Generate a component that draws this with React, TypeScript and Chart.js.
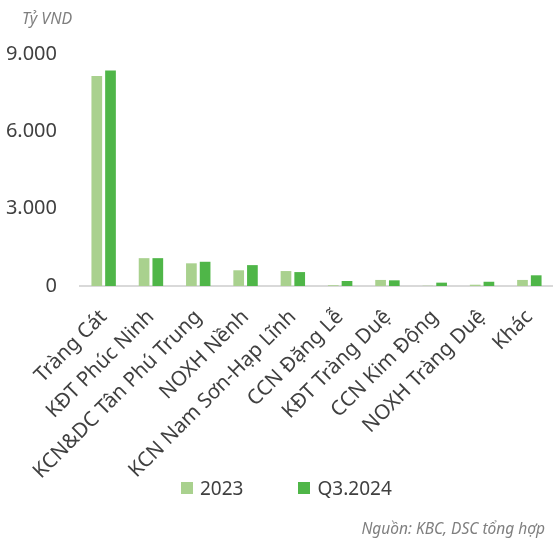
import React, { useEffect, useRef } from "react";
import { Chart, registerables } from "chart.js";

Chart.register(...registerables);

const categories = [
  "Tràng Cát",
  "KĐT Phúc Ninh",
  "KCN&DC Tân Phú Trung",
  "NOXH Nềnh",
  "KCN Nam Sơn-Hạp Lĩnh",
  "CCN Đặng Lễ",
  "KĐT Tràng Duệ",
  "CCN Kim Động",
  "NOXH Tràng Duệ",
  "Khác",
];
const values2023 = [8150, 1080, 880, 610, 580, 30, 235, 10, 50, 235];
const valuesQ3_2024 = [8360, 1080, 940, 810, 540, 195, 220, 130, 165, 415];
const yTicks = [0, 3000, 6000, 9000];
const seriesNames = ["2023", "Q3.2024"];
const seriesColors = ["#a9d18e", "#4fb648"];

const FONT = "'Noto Sans', 'Open Sans', sans-serif";

export default function App() {
  const ref = useRef<HTMLCanvasElement | null>(null);
  useEffect(() => {
    if (!ref.current) return;
    const chart = new Chart(ref.current, {
      type: "bar",
      data: {
        labels: categories,
        datasets: [
          {
            label: seriesNames[0],
            data: values2023,
            backgroundColor: seriesColors[0],
            barPercentage: 0.78,
            categoryPercentage: 0.58,
          },
          {
            label: seriesNames[1],
            data: valuesQ3_2024,
            backgroundColor: seriesColors[1],
            barPercentage: 0.78,
            categoryPercentage: 0.58,
          },
        ],
      },
      options: {
        animation: false,
        responsive: false,
        layout: { padding: { top: 54, left: 6, right: 0, bottom: 54 } },
        plugins: {
          legend: { display: false },
          tooltip: { enabled: false },
        },
        scales: {
          x: {
            grid: { display: false },
            border: { display: true, color: "#d9d9d9", width: 2 },
            afterFit: (axis: any) => {
              axis.paddingLeft = 0;
              axis.paddingRight = 0;
              axis.height = 200;
            },
            ticks: {
              font: { family: FONT, size: 20.5 },
              color: "#404040",
              minRotation: 45,
              maxRotation: 45,
              padding: 11,
            },
          },
          y: {
            min: 0,
            max: 9000,
            afterBuildTicks: (axis: any) => {
              axis.ticks = yTicks.map((v) => ({ value: v }));
            },
            afterFit: (axis: any) => {
              axis.width = 74;
            },
            grid: { display: false, drawTicks: false },
            border: { display: false },
            ticks: {
              font: { family: FONT, size: 20 },
              color: "#404040",
              padding: 23,
              callback: (v: any) =>
                Number(v).toString().replace(/\B(?=(\d{3})+(?!\d))/g, "."),
            },
          },
        },
      },
    });
    return () => chart.destroy();
  }, []);

  const legendItem = (i: number) => (
    <div style={{ display: "flex", alignItems: "center" }}>
      <span style={{ display: "inline-block", width: 12, height: 12, background: seriesColors[i], marginRight: 7 }} />
      <span>{seriesNames[i]}</span>
    </div>
  );

  return (
    <div style={{ position: "absolute", left: 0, top: 0, width: 553, height: 540, background: "#fff" }}>
      <canvas ref={ref} width={553} height={540} style={{ display: "block" }} />
      <div
        style={{
          position: "absolute",
          left: 22,
          top: 7,
          fontFamily: FONT,
          fontStyle: "italic",
          fontSize: 16,
          color: "#7f7f7f",
        }}
      >
        Tỷ VND
      </div>
      <div
        style={{
          position: "absolute",
          left: 181,
          top: 474,
          height: 28,
          display: "flex",
          alignItems: "center",
          gap: 55,
          fontFamily: FONT,
          fontSize: 19,
          color: "#404040",
        }}
      >
        {legendItem(0)}
        {legendItem(1)}
      </div>
      <div
        style={{
          position: "absolute",
          right: 8,
          top: 517,
          fontFamily: FONT,
          fontStyle: "italic",
          fontSize: 15.5,
          color: "#7f7f7f",
        }}
      >
        Nguồn: KBC, DSC tổng hợp
      </div>
    </div>
  );
}
